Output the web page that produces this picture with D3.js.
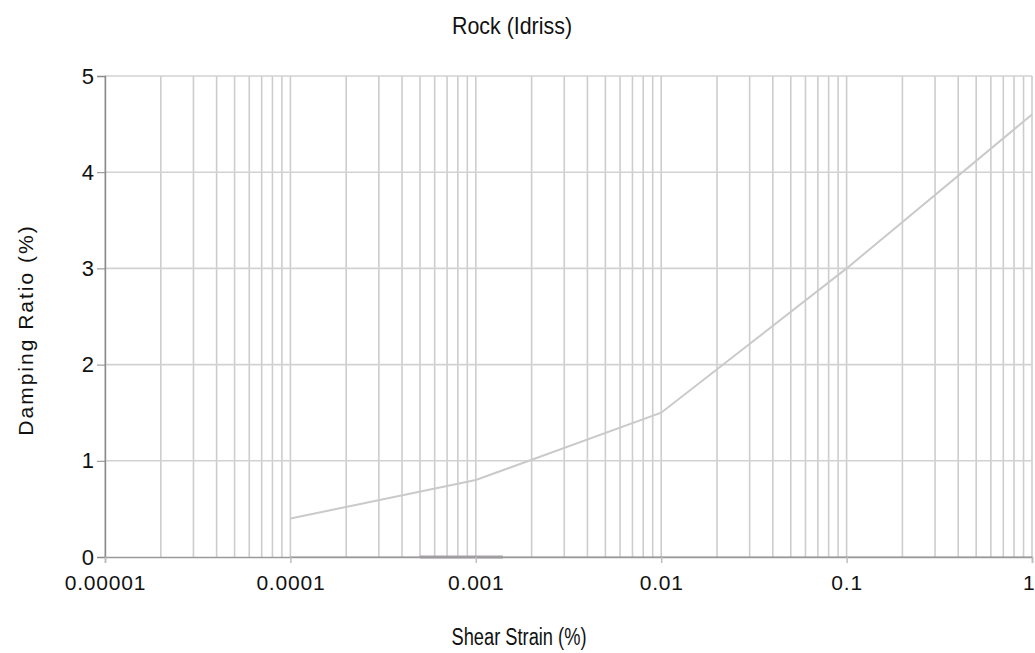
<!DOCTYPE html>
<html>
<head>
<meta charset="utf-8">
<script src="https://cdnjs.cloudflare.com/ajax/libs/d3/7.8.5/d3.min.js"></script>
<style>
  html, body { margin: 0; padding: 0; background: #ffffff; }
  svg { display: block; }
  text { fill: #111; }
</style>
</head>
<body>
<svg id="chart" width="1035" height="653"></svg>
<script>
// Damping curve for rock (Idriss): shear strain (%) vs damping ratio (%)
const strain = [0.0001, 0.001, 0.01, 0.1, 1];
const damping = [0.4, 0.8, 1.5, 3.0, 4.6];

// Zero-valued trace lying on the strain axis
const baseStrain = [0.0001, 1];
const baseDamping = [0, 0];
const stubStrain = [0.0005, 0.0014];
const stubDamping = [0, 0];

// Axis ticks
const xTicks = [0.00001, 0.0001, 0.001, 0.01, 0.1, 1];
const xTickLabels = ["0.00001", "0.0001", "0.001", "0.01", "0.1", "1"];
const yTicks = [0, 1, 2, 3, 4, 5];

const titleText = "Rock (Idriss)";
const xTitle = "Shear Strain (%)";
const yTitle = "Damping Ratio (%)";

const svg = d3.select("#chart");
const plotLeft = 105, plotRight = 1032, plotTop = 76, plotBottom = 557;

const x = d3.scaleLog().domain([0.00001, 1]).range([plotLeft, plotRight]);
const y = d3.scaleLinear().domain([0, 5]).range([plotBottom, plotTop]);

// Minor/major vertical grid for each decade
const gridX = [];
for (let e = -5; e < 0; e++) {
  for (let k = 1; k <= 9; k++) gridX.push(k * Math.pow(10, e));
}
gridX.push(1);

const grid = svg.append("g");
grid.selectAll("line.v").data(gridX).join("line")
  .attr("class", "v")
  .attr("x1", d => x(d)).attr("x2", d => x(d))
  .attr("y1", plotTop).attr("y2", plotBottom)
  .attr("stroke", "#cdcdcd").attr("stroke-width", 1.6);

grid.selectAll("line.h").data(yTicks.filter(d => d > 0)).join("line")
  .attr("class", "h")
  .attr("x1", plotLeft).attr("x2", plotRight)
  .attr("y1", d => y(d)).attr("y2", d => y(d))
  .attr("stroke", "#d2d2d2").attr("stroke-width", 1.6);

const line = d3.line().x(d => x(d[0])).y(d => y(d[1]));

// Axis-level trace
svg.append("path")
  .datum(d3.zip(baseStrain, baseDamping))
  .attr("d", line).attr("fill", "none")
  .attr("stroke", "#9a9a9a").attr("stroke-width", 1.2);
svg.append("path")
  .datum(d3.zip(stubStrain, stubDamping))
  .attr("d", line).attr("fill", "none")
  .attr("stroke", "#a8a2a8").attr("stroke-width", 3);

// Damping curve
svg.append("path")
  .datum(d3.zip(strain, damping))
  .attr("d", line).attr("fill", "none")
  .attr("stroke", "#cacaca").attr("stroke-width", 2);

// Y axis
const yAxis = svg.append("g")
  .attr("transform", `translate(${plotLeft},0)`)
  .call(d3.axisLeft(y).tickValues(yTicks).tickSize(8).tickPadding(3).tickFormat(d3.format("d")));
yAxis.select(".domain").attr("stroke", "#8a8a8a").attr("stroke-width", 1.4);
yAxis.selectAll(".tick line").attr("stroke", "#8a8a8a");
yAxis.selectAll(".tick text")
  .attr("font-family", "'Liberation Sans', Arial, sans-serif")
  .attr("font-size", 22).attr("fill", "#111");

// X axis
const xAxis = svg.append("g")
  .attr("transform", `translate(0,${plotBottom})`)
  .call(d3.axisBottom(x).tickValues(xTicks).tickSize(6).tickPadding(12)
    .tickFormat((d, i) => xTickLabels[i]));
xAxis.select(".domain").attr("stroke", "#9a9a9a").attr("stroke-width", 1.4);
xAxis.selectAll(".tick line").attr("stroke", "#bdbdbd").attr("stroke-width", 1.5);
xAxis.selectAll(".tick text")
  .attr("font-family", "'Liberation Sans', Arial, sans-serif")
  .attr("font-size", 21).attr("letter-spacing", 0.8).attr("fill", "#111");
// last label sits against the right edge
xAxis.selectAll(".tick text").filter(d => d === 1)
  .attr("text-anchor", "end").attr("dx", 3);

// Titles
svg.append("text")
  .attr("x", 512).attr("y", 34)
  .attr("text-anchor", "middle")
  .attr("font-family", "'Liberation Sans', Arial, sans-serif")
  .attr("font-size", 24)
  .attr("textLength", 120).attr("lengthAdjust", "spacingAndGlyphs")
  .text(titleText);

svg.append("text")
  .attr("x", 519).attr("y", 645)
  .attr("text-anchor", "middle")
  .attr("font-family", "'Liberation Sans', Arial, sans-serif")
  .attr("font-size", 23)
  .attr("textLength", 135).attr("lengthAdjust", "spacingAndGlyphs")
  .text(xTitle);

svg.append("text")
  .attr("transform", "translate(33,330) rotate(-90)")
  .attr("text-anchor", "middle")
  .attr("font-family", "'Liberation Sans', Arial, sans-serif")
  .attr("font-size", 21)
  .attr("letter-spacing", 2)
  .text(yTitle);
</script>
</body>
</html>
